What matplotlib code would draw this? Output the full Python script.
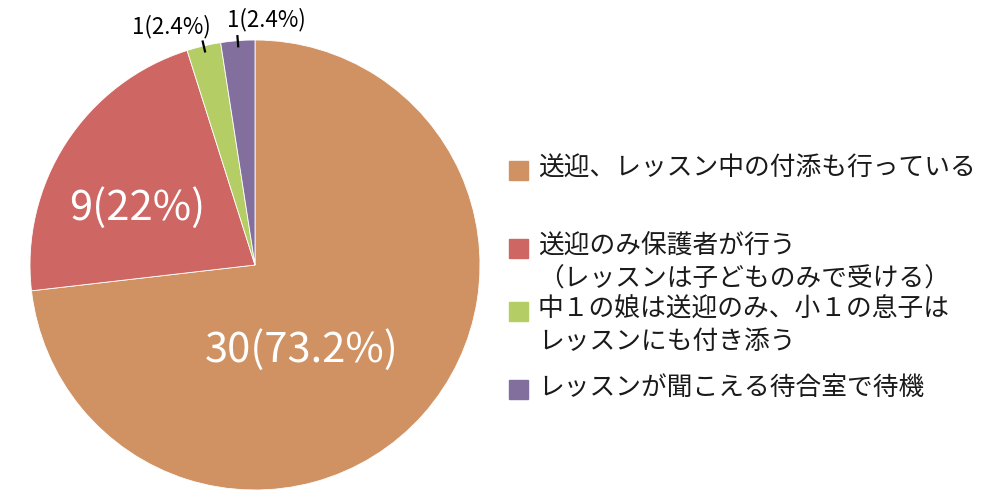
import numpy as np
import matplotlib.pyplot as plt
from matplotlib.patches import Rectangle

plt.rcParams['font.family'] = ['Noto Sans CJK JP', 'DejaVu Sans']

# data
categories = [
    '送迎、レッスン中の付添も行っている',
    '送迎のみ保護者が行う\n（レッスンは子どものみで受ける）',
    '中１の娘は送迎のみ、小１の息子は\nレッスンにも付き添う',
    'レッスンが聞こえる待合室で待機',
]
counts = [30, 9, 1, 1]
pct_labels = ['30(73.2%)', '9(22%)', '1(2.4%)', '1(2.4%)']
colors = ['#D09262', '#CE6663', '#B4CD64', '#836F9E']

fig = plt.figure(figsize=(10, 5), dpi=100)
# pie axes: centre (255,265) px, radius 225 px
ax = fig.add_axes([0.03, 0.02, 0.45, 0.9])
wedges, _ = ax.pie(counts, colors=colors, startangle=90, counterclock=False,
                   radius=1, wedgeprops=dict(edgecolor='white', linewidth=0.6))
ax.set_xlim(-1, 1)
ax.set_ylim(-1, 1)
ax.set_aspect('equal')
ax.axis('off')

# big labels inside the slices: (radius, angle in degrees)
inner_pos = {0: (0.43, -61), 1: (0.58, 154)}
for i, (r, ang) in inner_pos.items():
    a = np.deg2rad(ang)
    ax.text(r * np.cos(a), r * np.sin(a), pct_labels[i], color='white',
            fontsize=30, ha='center', va='center')

# small labels outside with short tick lines
offsets = {2: (-0.14, 0.066), 3: (0.13, 0.075)}
for i, (dx, dy) in offsets.items():
    w = wedges[i]
    mid = np.deg2rad((w.theta1 + w.theta2) / 2)
    c, s = np.cos(mid), np.sin(mid)
    ax.plot([0.975 * c, 1.02 * c], [0.975 * s, 1.02 * s], color='black',
            lw=1.6, clip_on=False)
    ax.text(1.02 * c + dx, 1.02 * s + dy, pct_labels[i], fontsize=16,
            ha='center', va='center', clip_on=False)

# legend drawn by hand (uneven row spacing in the original)
row_y = [170, 248, 311, 389]  # pixel centre of first line
for lab, col, y in zip(categories, colors, row_y):
    fy = 1 - y / 500
    fig.patches.append(Rectangle((0.509, fy - 0.02), 0.019, 0.038,
                                 transform=fig.transFigure, color=col))
    fig.text(0.538, fy + 0.029, lab, fontsize=18.5, color='#1a1a1a',
             ha='left', va='top', linespacing=1.33,
             transform=fig.transFigure)

fig.savefig('out.png', dpi=100)
